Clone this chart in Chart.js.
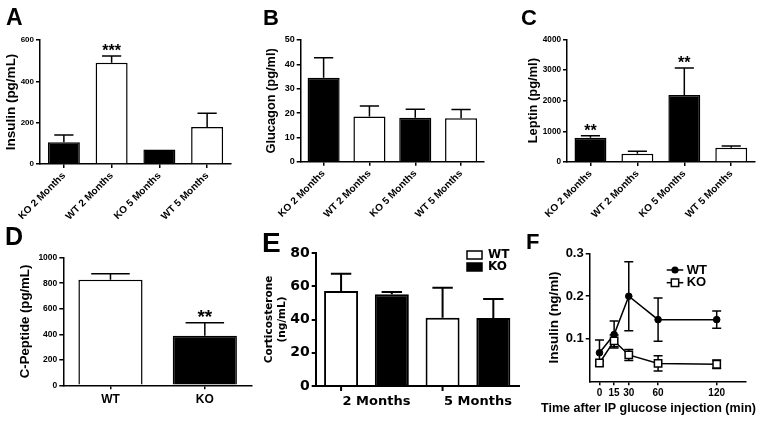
<!DOCTYPE html>
<html>
<head>
<meta charset="utf-8">
<script src="https://cdn.jsdelivr.net/npm/chart.js@4.4.1/dist/chart.umd.min.js"></script>
<style>
body { margin: 0; width: 762px; height: 424px; overflow: hidden; position: relative; background: #fff; }
canvas { position: absolute; }
.tag { position: absolute; font-family: "Liberation Sans", Arial, sans-serif; font-weight: bold; line-height: 1; color: #000; }
</style>
</head>
<body>
<canvas id="panelA" width="254" height="224" style="left:0;top:0"></canvas>
<canvas id="panelB" width="254" height="224" style="left:254px;top:0"></canvas>
<canvas id="panelC" width="254" height="224" style="left:508px;top:0"></canvas>
<canvas id="panelD" width="254" height="212" style="left:0;top:212px"></canvas>
<canvas id="panelE" width="266" height="212" style="left:254px;top:212px"></canvas>
<canvas id="panelF" width="257" height="212" style="left:520px;top:212px"></canvas>
<div class="tag" style="left:6px;top:6px;font-size:23px">A</div>
<div class="tag" style="left:263px;top:7px;font-size:22px">B</div>
<div class="tag" style="left:521px;top:7px;font-size:22px">C</div>
<div class="tag" style="left:5px;top:224px;font-size:25px">D</div>
<div class="tag" style="left:262px;top:229px;font-size:28px">E</div>
<div class="tag" style="left:526px;top:231px;font-size:22px">F</div>
<script>
// values
const groupLabels = ['KO 2 Months', 'WT 2 Months', 'KO 5 Months', 'WT 5 Months'];
const insulinMean = [105, 490, 70, 179];
const insulinErr = [35, 33, 0, 66];
const insulinStars = ['', '***', '', ''];
const glucagonMean = [34.5, 18.6, 18.1, 17.8];
const glucagonErr = [8.2, 4.3, 3.5, 3.6];
const leptinMean = [790, 265, 2185, 466];
const leptinErr = [65, 85, 880, 55];
const leptinStars = ['**', '', '**', ''];
const genotypes = ['WT', 'KO'];
const cpeptideMean = [827, 388];
const cpeptideErr = [47, 102];
const cpeptideStars = ['', '**'];
const ageLabels = ['2 Months', '5 Months'];
const corticoWT = [57.1, 41.1];
const corticoWTErr = [10.4, 18];
const corticoKO = [55.2, 40.9];
const corticoKOErr = [1.3, 11.4];
const gttTimes = [0, 15, 30, 60, 120];
const gttWT = [0.067, 0.11, 0.2, 0.145, 0.145];
const gttWTErr = [0.03, 0.032, 0.081, 0.051, 0.02];
const gttKO = [0.043, 0.095, 0.062, 0.042, 0.040];
const gttKOErr = [0.005, 0.014, 0.013, 0.018, 0.01];

const ARIAL = '"Liberation Sans", Arial, sans-serif';
const DEJAVU = '"DejaVu Sans", Verdana, sans-serif';
Chart.defaults.font.family = ARIAL;
Chart.defaults.font.weight = 'bold';
Chart.defaults.color = '#000';

const groupFill = ['#000', '#fff', '#000', '#fff'];

// error bars (one sided for bars, both sides for the curve) and stars
const errorBars = {
  id: 'errorBars',
  beforeDatasetsDraw(chart) {
    const ctx = chart.ctx;
    const yScale = chart.scales.y;
    chart.data.datasets.forEach((ds, i) => {
      if (!ds.err) return;
      chart.getDatasetMeta(i).data.forEach((el, j) => {
        const e = ds.err[j];
        if (!e) return;
        const raw = ds.data[j];
        const v = typeof raw === 'object' ? raw.y : raw;
        const top = yScale.getPixelForValue(v + e);
        const bottom = ds.errBoth ? yScale.getPixelForValue(v - e) : el.y;
        const half = ds.capWidth ? ds.capWidth / 2 : el.width * 0.3;
        ctx.save();
        ctx.strokeStyle = '#000';
        ctx.lineWidth = ds.errWidth || 1.5;
        ctx.beginPath();
        ctx.moveTo(el.x, bottom);
        ctx.lineTo(el.x, top);
        ctx.moveTo(el.x - half, top);
        ctx.lineTo(el.x + half, top);
        if (ds.errBoth) {
          ctx.moveTo(el.x - half, bottom);
          ctx.lineTo(el.x + half, bottom);
        }
        ctx.stroke();
        ctx.restore();
      });
    });
  },
  afterDatasetsDraw(chart) {
    const ctx = chart.ctx;
    const yScale = chart.scales.y;
    chart.data.datasets.forEach((ds, i) => {
      if (!ds.stars) return;
      chart.getDatasetMeta(i).data.forEach((el, j) => {
        if (!ds.stars[j]) return;
        const v = ds.data[j] + (ds.err ? ds.err[j] : 0);
        ctx.save();
        ctx.font = 'bold ' + ds.starSize + 'px ' + ARIAL;
        ctx.textAlign = 'center';
        ctx.textBaseline = 'alphabetic';
        ctx.fillStyle = '#000';
        ctx.fillText(ds.stars[j], el.x, yScale.getPixelForValue(v) + (ds.starShift || 0));
        ctx.restore();
      });
    });
  }
};

// tick marks under the bars of one dataset (panel E)
const barTicks = {
  id: 'barTicks',
  afterDatasetsDraw(chart, args, opts) {
    if (!opts.length) return;
    const ctx = chart.ctx;
    const b = chart.chartArea.bottom;
    ctx.save();
    ctx.strokeStyle = '#000';
    ctx.lineWidth = opts.width;
    chart.getDatasetMeta(opts.dataset).data.forEach(el => {
      ctx.beginPath();
      ctx.moveTo(el.x, b);
      ctx.lineTo(el.x, b + opts.length);
      ctx.stroke();
    });
    ctx.restore();
  }
};

// small key drawn inside the plot
const keyLegend = {
  id: 'keyLegend',
  afterDraw(chart, args, o) {
    if (!o.kind) return;
    const ctx = chart.ctx;
    ctx.save();
    ctx.font = o.font;
    ctx.textBaseline = 'middle';
    chart.data.datasets.forEach((ds, row) => {
      const y = o.y + row * o.rowGap;
      ctx.strokeStyle = '#000';
      ctx.lineWidth = 1.5;
      if (o.kind === 'box') {
        ctx.fillStyle = ds.backgroundColor;
        ctx.fillRect(o.x, y - o.boxH / 2, o.boxW, o.boxH);
        ctx.strokeRect(o.x, y - o.boxH / 2, o.boxW, o.boxH);
      } else {
        const cx = o.x + o.lineW / 2;
        ctx.beginPath();
        ctx.moveTo(o.x, y);
        ctx.lineTo(o.x + o.lineW, y);
        ctx.stroke();
        ctx.fillStyle = ds.pointBackgroundColor;
        ctx.beginPath();
        if (ds.pointStyle === 'rect') {
          const s = ds.pointRadius * Math.SQRT1_2;
          ctx.rect(cx - s, y - s, 2 * s, 2 * s);
        } else {
          ctx.arc(cx, y, ds.pointRadius * 0.85, 0, Math.PI * 2);
        }
        ctx.fill();
        ctx.stroke();
      }
      ctx.fillStyle = '#000';
      ctx.fillText(ds.label, o.x + o.textDx, y);
    });
    ctx.restore();
  }
};

function axisLook(width, tickLen) {
  return {
    grid: { display: true, drawOnChartArea: false, offset: false, drawTicks: true, tickLength: tickLen, color: '#000', lineWidth: width },
    border: { display: true, color: '#000', width: width }
  };
}

const plainNumber = v => String(v);

function barOptions(c) {
  return {
    responsive: false,
    animation: false,
    layout: { padding: { top: c.top, right: c.right, left: 0, bottom: 0 } },
    plugins: { legend: { display: false }, tooltip: { enabled: false }, barTicks: c.barTicks || {}, keyLegend: c.key || {} },
    scales: {
      x: Object.assign(axisLook(c.lw || 1.5, 4), {
        ticks: Object.assign({ autoSkip: false, font: { size: c.xSize, family: c.family || ARIAL }, padding: c.xPad }, c.xTicks || {}),
        afterFit: s => { s.height = c.xHeight; }
      }),
      y: Object.assign(axisLook(c.lw || 1.5, 4), {
        min: 0, max: c.max,
        ticks: { stepSize: c.step, callback: plainNumber, font: { size: c.ySize, family: c.family || ARIAL }, padding: 2 },
        title: { display: true, text: c.title, font: { size: c.titleSize, family: c.family || ARIAL, lineHeight: c.titleLine || 1.2 }, padding: { top: c.titlePad, bottom: 0 } },
        afterFit: s => { s.width = c.yWidth; }
      })
    }
  };
}

const rotated = { minRotation: 45, maxRotation: 45 };

new Chart(document.getElementById('panelA'), {
  type: 'bar',
  data: { labels: groupLabels, datasets: [{ data: insulinMean, err: insulinErr, stars: insulinStars, starSize: 16,
    backgroundColor: groupFill, borderColor: '#000', borderWidth: 1.5, barPercentage: 0.67, categoryPercentage: 1 }] },
  options: barOptions({ top: 40, right: 23, xHeight: 60, yWidth: 40, max: 600, step: 200, ySize: 8, xSize: 10, xPad: 2,
    xTicks: rotated, title: 'Insulin (pg/mL)', titleSize: 13.5, titlePad: 3.6 }),
  plugins: [errorBars]
});

new Chart(document.getElementById('panelB'), {
  type: 'bar',
  data: { labels: groupLabels, datasets: [{ data: glucagonMean, err: glucagonErr,
    backgroundColor: groupFill, borderColor: '#000', borderWidth: 1.5, barPercentage: 0.7, categoryPercentage: 1 }] },
  options: barOptions({ top: 40, right: 24, xHeight: 62.3, yWidth: 46.7, max: 50, step: 10, ySize: 9, xSize: 10, xPad: 2,
    xTicks: rotated, title: 'Glucagon (pg/ml)', titleSize: 12.8, titlePad: 9.8 }),
  plugins: [errorBars]
});

new Chart(document.getElementById('panelC'), {
  type: 'bar',
  data: { labels: groupLabels, datasets: [{ data: leptinMean, err: leptinErr, stars: leptinStars, starSize: 16,
    backgroundColor: groupFill, borderColor: '#000', borderWidth: 1.5, barPercentage: 0.68, categoryPercentage: 1 }] },
  options: barOptions({ top: 39.3, right: 7.3, xHeight: 62, yWidth: 59, max: 4000, step: 1000, ySize: 8.2, xSize: 10, xPad: 2,
    xTicks: rotated, title: 'Leptin (pg/ml)', titleSize: 12.9, titlePad: 17.8 }),
  plugins: [errorBars]
});

new Chart(document.getElementById('panelD'), {
  type: 'bar',
  data: { labels: genotypes, datasets: [{ data: cpeptideMean, err: cpeptideErr, stars: cpeptideStars, starSize: 19,
    backgroundColor: ['#fff', '#000'], borderColor: '#000', borderWidth: 1.5, barPercentage: 0.68, categoryPercentage: 1 }] },
  options: barOptions({ top: 45.7, right: 2, xHeight: 38.7, yWidth: 63.3, max: 1000, step: 200, ySize: 8.5, xSize: 12, xPad: 3.5,
    title: 'C-Peptide (pg/mL)', titleSize: 13.2, titlePad: 17 }),
  plugins: [errorBars]
});

new Chart(document.getElementById('panelE'), {
  type: 'bar',
  data: { labels: ageLabels, datasets: [
    { label: 'WT', data: corticoWT, err: corticoWTErr, errWidth: 2, backgroundColor: '#fff', borderColor: '#000', borderWidth: 2, barPercentage: 0.67, categoryPercentage: 1 },
    { label: 'KO', data: corticoKO, err: corticoKOErr, errWidth: 2, backgroundColor: '#000', borderColor: '#000', borderWidth: 2, barPercentage: 0.67, categoryPercentage: 1 }
  ] },
  options: (() => {
    const o = barOptions({ top: 41, right: 1.3, xHeight: 38, yWidth: 61.7, max: 80, step: 20, ySize: 14, xSize: 13, xPad: 8,
      family: DEJAVU, lw: 2, xTicks: { labelOffset: 10 }, title: ['Corticosterone', '(ng/mL)'], titleSize: 10.5, titleLine: 1.25, titlePad: 8.5,
      barTicks: { dataset: 0, length: 5, width: 2 },
      key: { kind: 'box', x: 213, y: 43, rowGap: 12, boxW: 15, boxH: 8, textDx: 21, font: 'bold 12px ' + DEJAVU } });
    o.scales.x.grid.drawTicks = false;
    return o;
  })(),
  plugins: [errorBars, barTicks, keyLegend]
});

new Chart(document.getElementById('panelF'), {
  type: 'line',
  data: { datasets: [
    { label: 'WT', data: gttTimes.map((t, i) => ({ x: t, y: gttWT[i] })), err: gttWTErr, errBoth: true, capWidth: 9, order: 1,
      borderColor: '#000', borderWidth: 1.5, pointStyle: 'circle', pointRadius: 3.3, pointBackgroundColor: '#000', pointBorderColor: '#000', pointBorderWidth: 1 },
    { label: 'KO', data: gttTimes.map((t, i) => ({ x: t, y: gttKO[i] })), err: gttKOErr, errBoth: true, capWidth: 9, order: 0,
      borderColor: '#000', borderWidth: 1.5, pointStyle: 'rect', pointRadius: 5.2, pointBackgroundColor: '#fff', pointBorderColor: '#000', pointBorderWidth: 1.5 }
  ] },
  options: {
    responsive: false,
    animation: false,
    layout: { padding: { top: 41.7, right: 21, left: 21, bottom: 0 } },
    plugins: {
      legend: { display: false },
      tooltip: { enabled: false },
      title: { display: true, position: 'bottom', text: 'Time after IP glucose injection (min)', font: { size: 13, weight: 'bold' }, color: '#000', padding: { top: 0, bottom: 7.5 } },
      keyLegend: { kind: 'line', x: 146.7, y: 58, rowGap: 12.7, lineW: 16.6, textDx: 20, font: 'bold 13px ' + ARIAL }
    },
    scales: {
      x: Object.assign(axisLook(1.5, 4), {
        type: 'linear', min: -10, max: 150,
        afterBuildTicks: s => { s.ticks = gttTimes.map(v => ({ value: v })); },
        ticks: { autoSkip: false, font: { size: 10 }, padding: 2 },
        afterFit: s => { s.height = 19.6; }
      }),
      y: Object.assign(axisLook(1.5, 4), {
        min: 0, max: 0.3,
        afterBuildTicks: s => { s.ticks = s.ticks.filter(t => t.value > 0.001); },
        ticks: { stepSize: 0.1, font: { size: 13 }, padding: 2 },
        title: { display: true, text: 'Insulin (ng/ml)', font: { size: 13.5 }, padding: { top: 5.6, bottom: 0 } },
        afterFit: s => { s.width = 48.7; }
      }),
      // empty strip on the right so the bottom title can run past the x axis end
      yRight: {
        position: 'right', display: true,
        grid: { display: false }, border: { display: false }, ticks: { display: false },
        afterFit: s => { s.width = 10; }
      }
    }
  },
  plugins: [errorBars, keyLegend]
});
</script>
</body>
</html>
